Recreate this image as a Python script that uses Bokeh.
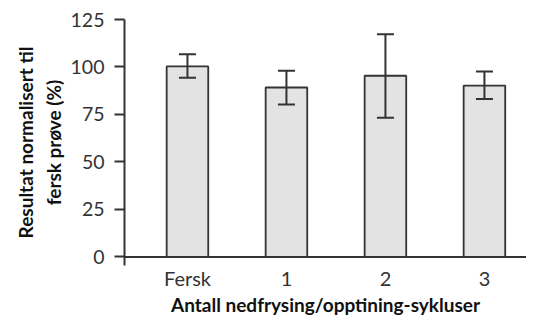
from bokeh.plotting import figure
from bokeh.models import Range1d, FixedTicker, ColumnDataSource, Span
from bokeh.embed import file_html
from bokeh.resources import INLINE

categories = ["Fersk", "1", "2", "3"]
means = [100.3, 89.2, 95.4, 90.2]
upper = [106.7, 98.0, 117.3, 97.6]
lower = [94.4, 80.3, 73.3, 83.2]
y_ticks = [0, 25, 50, 75, 100, 125]

xs = list(range(len(categories)))
src = ColumnDataSource(dict(x=xs, top=means, upper=upper, lower=lower))

FONT = "Lato"
DARK = "#333333"

p = figure(width=526, height=318, output_backend="svg", toolbar_location=None,
           x_range=Range1d(-0.636, 3.425), y_range=Range1d(-4.5, 125),
           min_border_left=124, min_border_right=0, min_border_top=19, min_border_bottom=0)
p.outline_line_color = None
p.xgrid.visible = False
p.ygrid.visible = False

p.vbar(x="x", top="top", width=0.42, bottom=0, source=src,
       fill_color="#e3e3e3", line_color=DARK, line_width=1.8)

p.segment(x0="x", y0="lower", x1="x", y1="upper", source=src,
          line_color=DARK, line_width=2)
p.scatter(x="x", y="upper", source=src, marker="dash", size=17,
          line_color=DARK, line_width=2)
p.scatter(x="x", y="lower", source=src, marker="dash", size=17,
          line_color=DARK, line_width=2)

p.add_layout(Span(location=0, dimension="width", line_color=DARK, line_width=2))

# y axis
p.yaxis.ticker = FixedTicker(ticks=y_ticks)
p.yaxis.axis_line_color = DARK
p.yaxis.axis_line_width = 2
p.yaxis.major_tick_line_color = DARK
p.yaxis.major_tick_line_width = 2
p.yaxis.major_tick_out = 10
p.yaxis.major_tick_in = 0
p.yaxis.minor_tick_line_color = None
p.yaxis.major_label_standoff = 10
p.yaxis.major_label_text_font = FONT
p.yaxis.major_label_text_font_size = "19.5px"
p.yaxis.major_label_text_color = DARK
p.yaxis.axis_label = "Resultat normalisert til\nfersk prøve (%)"
p.yaxis.axis_label_text_font = FONT
p.yaxis.axis_label_text_font_size = "19px"
p.yaxis.axis_label_text_font_style = "bold"
p.yaxis.axis_label_text_color = "#111111"
p.yaxis.axis_label_text_line_height = 1.2
p.yaxis.axis_label_standoff = 3

# x axis
p.xaxis.ticker = FixedTicker(ticks=xs)
p.xaxis.major_label_overrides = {i: c for i, c in zip(xs, categories)}
p.xaxis.axis_line_color = None
p.xaxis.major_tick_line_color = None
p.xaxis.minor_tick_line_color = None
p.xaxis.major_tick_out = 0
p.xaxis.major_tick_in = 0
p.xaxis.major_label_standoff = 0
p.xaxis.major_label_text_font = FONT
p.xaxis.major_label_text_font_size = "20px"
p.xaxis.major_label_text_color = DARK
p.xaxis.axis_label = "Antall nedfrysing/opptining-sykluser"
p.xaxis.axis_label_text_font = FONT
p.xaxis.axis_label_text_font_size = "19px"
p.xaxis.axis_label_text_font_style = "bold"
p.xaxis.axis_label_text_color = "#111111"
p.xaxis.axis_label_standoff = 0

open("out.html", "w").write(file_html(p, INLINE))
